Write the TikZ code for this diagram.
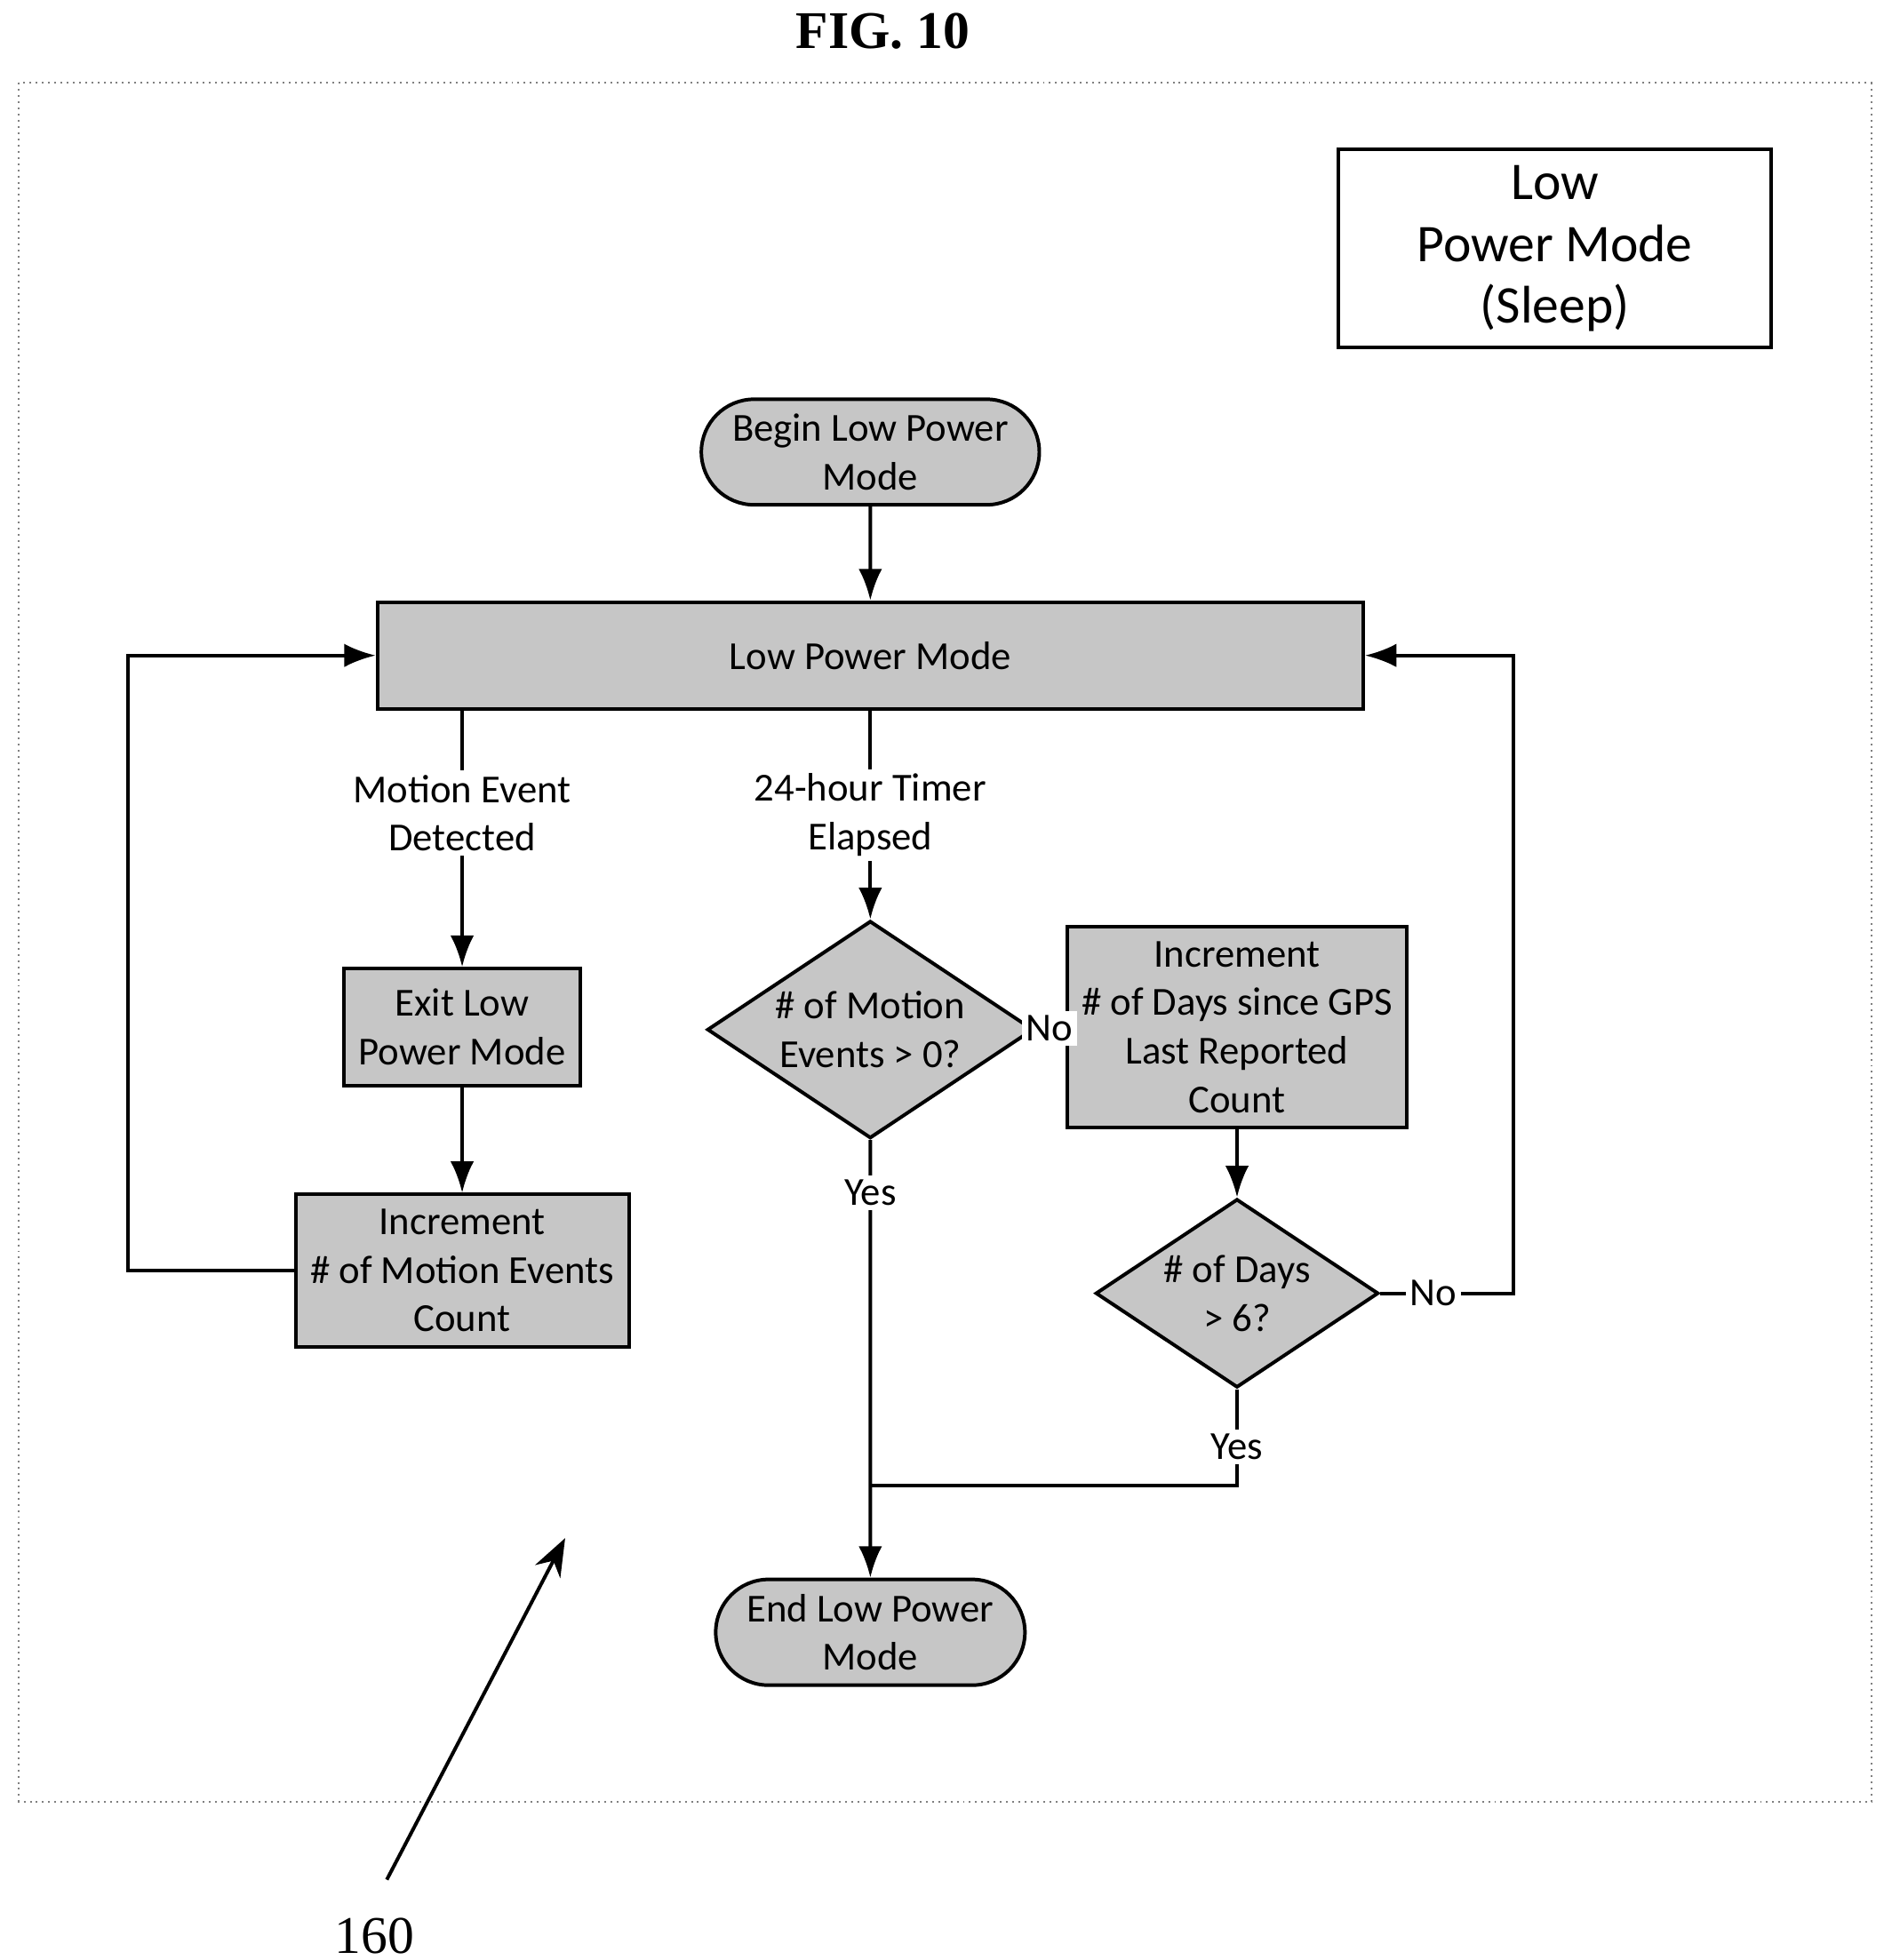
\documentclass[tikz,border=0pt]{standalone}
\usepackage{fontspec}
\setmainfont{Carlito}
\newfontfamily\figfont{Liberation Serif}
\usetikzlibrary{shapes.geometric, shapes.misc, arrows.meta, positioning, calc}

\tikzset{
  box/.style={draw, thick, fill=gray!45, align=center, font=\small},
  term/.style={box, rounded rectangle, minimum width=2.12cm, minimum height=0.8cm},
  dec/.style={box, diamond, aspect=1.5, inner sep=1pt},
  lbl/.style={fill=white, inner sep=1pt, align=center, font=\small},
  flow/.style={thick, -{Latex[length=2.5mm]}},
  line/.style={thick}
}

\begin{document}
\begin{tikzpicture}[x=1cm, y=-1cm]
  \useasboundingbox (0,0) rectangle (15,15.61);
  % title and frame
  \node[font=\figfont\bfseries\large] (title) at (7.03,0.25) {FIG. 10};
  \draw[gray, densely dotted] (0.15,0.66) rectangle (14.9,14.35);
  \node[draw, thick, minimum width=3.45cm, minimum height=1.58cm, align=center, font=\large] (legend) at (12.38,1.98) {Low\\Power Mode\\(Sleep)};

  % flow nodes
  \node[term] (begin) at (6.93,3.6) {Begin Low Power\\Mode};
  \node[box, minimum width=7.85cm, minimum height=0.85cm] (lpm) at (6.93,5.22) {Low Power Mode};
  \node[box, minimum width=1.6cm, minimum height=0.93cm] (exit) at (3.68,8.18) {Exit Low\\Power Mode};
  \node[box, minimum width=2.13cm, minimum height=0.95cm] (incmot) at (3.68,10.12) {Increment\\\# of Motion Events\\Count};
  \node[dec, minimum width=1.96cm, minimum height=1.3cm] (motq) at (6.93,8.2) {\# of Motion\\Events > 0?};
  \node[box, minimum width=1.99cm, minimum height=1.33cm] (incday) at (9.85,8.18) {Increment\\\# of Days since GPS\\Last Reported\\Count};
  \node[dec, minimum width=1.7cm, minimum height=1.12cm] (dayq) at (9.85,10.3) {\# of Days\\> 6?};
  \node[term] (end) at (6.93,13.0) {End Low Power\\Mode};

  % connectors
  \draw[flow] (begin) -- (lpm);
  \draw[flow] (lpm.south -| exit) -- node[lbl, pos=0.4] {Motion Event\\Detected} (exit);
  \draw[flow] (exit) -- (incmot);
  \draw[flow] (incmot.west) -- (1.02,10.12) -- (1.02,5.22) -- (lpm.west);
  \draw[flow] (lpm) -- node[lbl, pos=0.5] {24-hour Timer\\Elapsed} (motq);
  \draw[flow] (motq) -- node[lbl] {No} (incday);
  \draw[flow] (incday) -- (dayq);
  \draw[flow] (dayq.east) -- node[lbl, pos=0.4] {No} (12.05,10.3) -- (12.05,5.22) -- (lpm.east);
  \draw[flow] (motq) -- node[lbl, pos=0.12] {Yes} (end);
  \coordinate (join) at (6.93,11.83);
  \draw[line] (dayq.south) -- node[lbl, pos=0.6] {Yes} (9.85,11.83) -- (join);

  % reference numeral
  \node[font=\figfont\large] (ref) at (2.98,15.42) {160};
  \coordinate (tip) at (4.5,12.25);
  \draw[thick, -{Stealth[length=3mm]}] (3.08,14.97) -- (tip);
\end{tikzpicture}
\end{document}
